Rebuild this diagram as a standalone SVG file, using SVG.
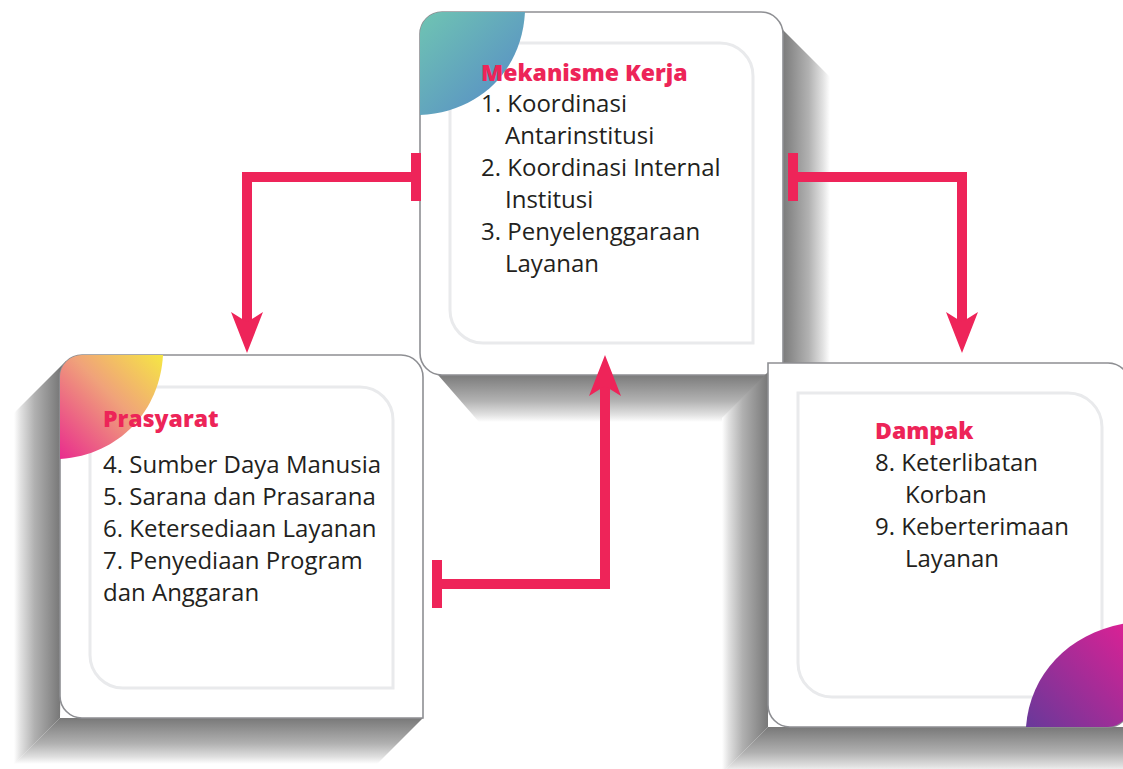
<svg xmlns="http://www.w3.org/2000/svg" width="1123" height="769" viewBox="0 0 1123 769">
  <style>
    .card { fill: #ffffff; stroke: #8e8f93; stroke-width: 1.6; }
    .inner { fill: none; stroke: #e9eaec; stroke-width: 3; }
    .title { font-family: "Open Sans", "Liberation Sans", sans-serif; font-weight: 800; font-size: 23px; fill: #ed2458; }
    .body { font-family: "Open Sans", "Liberation Sans", sans-serif; font-weight: 400; font-size: 24px; fill: #231f20; }
    .link { fill: none; stroke: #ee2459; stroke-width: 10; stroke-linejoin: miter; }
  </style>
  <defs>
    <!-- shadow faces: dark next to the card, fading outwards -->
    <linearGradient id="shR" gradientUnits="userSpaceOnUse" x1="783" y1="0" x2="830" y2="0">
      <stop offset="0" stop-color="#7b7b7b"/>
      <stop offset="0.55" stop-color="#b2b2b2"/>
      <stop offset="0.85" stop-color="#e2e2e2"/>
      <stop offset="1" stop-color="#ffffff"/>
    </linearGradient>
    <linearGradient id="shB1" gradientUnits="userSpaceOnUse" x1="0" y1="375" x2="0" y2="422">
      <stop offset="0" stop-color="#7b7b7b"/>
      <stop offset="0.55" stop-color="#b2b2b2"/>
      <stop offset="0.85" stop-color="#e2e2e2"/>
      <stop offset="1" stop-color="#ffffff"/>
    </linearGradient>
    <linearGradient id="shL2" gradientUnits="userSpaceOnUse" x1="60" y1="0" x2="14" y2="0">
      <stop offset="0" stop-color="#787878"/>
      <stop offset="0.55" stop-color="#b0b0b0"/>
      <stop offset="0.85" stop-color="#e0e0e0"/>
      <stop offset="1" stop-color="#ffffff"/>
    </linearGradient>
    <linearGradient id="shB2" gradientUnits="userSpaceOnUse" x1="0" y1="718" x2="0" y2="764">
      <stop offset="0" stop-color="#787878"/>
      <stop offset="0.55" stop-color="#b0b0b0"/>
      <stop offset="0.85" stop-color="#e0e0e0"/>
      <stop offset="1" stop-color="#ffffff"/>
    </linearGradient>
    <linearGradient id="shL3" gradientUnits="userSpaceOnUse" x1="768" y1="0" x2="722" y2="0">
      <stop offset="0" stop-color="#787878"/>
      <stop offset="0.55" stop-color="#b0b0b0"/>
      <stop offset="0.85" stop-color="#e0e0e0"/>
      <stop offset="1" stop-color="#ffffff"/>
    </linearGradient>
    <linearGradient id="shB3" gradientUnits="userSpaceOnUse" x1="0" y1="727" x2="0" y2="773">
      <stop offset="0" stop-color="#787878"/>
      <stop offset="0.55" stop-color="#b0b0b0"/>
      <stop offset="0.85" stop-color="#e0e0e0"/>
      <stop offset="1" stop-color="#ffffff"/>
    </linearGradient>

    <!-- corner accents -->
    <linearGradient id="gTeal" x1="0" y1="0" x2="1" y2="1">
      <stop offset="0" stop-color="#72cbb0"/>
      <stop offset="1" stop-color="#5587c8"/>
    </linearGradient>
    <linearGradient id="gWarm" x1="1" y1="0" x2="0" y2="1">
      <stop offset="0" stop-color="#f6ee3e"/>
      <stop offset="0.45" stop-color="#f0a27a"/>
      <stop offset="1" stop-color="#e8218f"/>
    </linearGradient>
    <linearGradient id="gViolet" x1="1" y1="0" x2="0" y2="1">
      <stop offset="0" stop-color="#e41f94"/>
      <stop offset="1" stop-color="#613a9a"/>
    </linearGradient>

    <clipPath id="clipMek">
      <path d="M442,12 H761 A22,22 0 0 1 783,34 V375 H442 A22,22 0 0 1 420,353 V34 A22,22 0 0 1 442,12 Z"/>
    </clipPath>
    <clipPath id="clipPra">
      <path d="M82,355 H401 A22,22 0 0 1 423,377 V718 H82 A22,22 0 0 1 60,696 V377 A22,22 0 0 1 82,355 Z"/>
    </clipPath>
    <clipPath id="clipDam">
      <path d="M768,363 H1108 A22,22 0 0 1 1130,385 V705 A22,22 0 0 1 1108,727 H790 A22,22 0 0 1 768,705 Z"/>
    </clipPath>

    <marker id="arrow" markerUnits="userSpaceOnUse" markerWidth="44" markerHeight="36" viewBox="0 -18 44 36" refX="10" refY="0" orient="auto">
      <path d="M41,0 L0,-16 L10,0 L0,16 Z" fill="#ee2459"/>
    </marker>
    <marker id="bar" markerUnits="userSpaceOnUse" markerWidth="12" markerHeight="50" viewBox="-6 -25 12 50" refX="0" refY="0" orient="auto">
      <rect x="-5" y="-24" width="10" height="48" fill="#ee2459"/>
    </marker>
  </defs>

  <!-- Mekanisme Kerja -->
  <g id="mekanisme-kerja">
    <polygon points="776,23 830,77 830,422 783,375" fill="url(#shR)"/>
    <polygon points="432,368 479,422 830,422 783,375" fill="url(#shB1)"/>
    <path class="card" d="M442,12 H761 A22,22 0 0 1 783,34 V375 H442 A22,22 0 0 1 420,353 V34 A22,22 0 0 1 442,12 Z"/>
    <path class="inner" d="M450,43 H720 A33,33 0 0 1 753,76 V343 H483 A33,33 0 0 1 450,310 Z"/>
    <path clip-path="url(#clipMek)" fill="url(#gTeal)" d="M525,12 C522,70 480,112 420,115 L410,115 L410,0 L525,0 Z"/>
    <text class="title" x="481" y="81">Mekanisme Kerja</text>
    <text class="body" x="481" y="112">1. Koordinasi</text>
    <text class="body" x="505" y="144">Antarinstitusi</text>
    <text class="body" x="481" y="176">2. Koordinasi Internal</text>
    <text class="body" x="505" y="208">Institusi</text>
    <text class="body" x="481" y="240">3. Penyelenggaraan</text>
    <text class="body" x="505" y="272">Layanan</text>
  </g>

  <!-- Prasyarat -->
  <g id="prasyarat">
    <polygon points="66,361 14,413 14,764 60,718" fill="url(#shL2)"/>
    <polygon points="60,718 14,764 377,764 423,718" fill="url(#shB2)"/>
    <path class="card" d="M82,355 H401 A22,22 0 0 1 423,377 V718 H82 A22,22 0 0 1 60,696 V377 A22,22 0 0 1 82,355 Z"/>
    <path class="inner" d="M90,387 H360 A33,33 0 0 1 393,420 V688 H123 A33,33 0 0 1 90,655 Z"/>
    <path clip-path="url(#clipPra)" fill="url(#gWarm)" d="M163,355 C160,410 120,455 60,459 L50,459 L50,345 L163,345 Z"/>
    <text class="title" x="103" y="427">Prasyarat</text>
    <text class="body" x="103" y="473">4. Sumber Daya Manusia</text>
    <text class="body" x="103" y="505">5. Sarana dan Prasarana</text>
    <text class="body" x="103" y="537">6. Ketersediaan Layanan</text>
    <text class="body" x="103" y="569">7. Penyediaan Program</text>
    <text class="body" x="103" y="601">dan Anggaran</text>
  </g>

  <!-- Dampak -->
  <g id="dampak">
    <polygon points="768,372 722,418 722,773 768,727" fill="url(#shL3)"/>
    <polygon points="768,727 722,773 1123,773 1123,727" fill="url(#shB3)"/>
    <path class="card" d="M768,363 H1108 A22,22 0 0 1 1130,385 V705 A22,22 0 0 1 1108,727 H790 A22,22 0 0 1 768,705 Z"/>
    <path class="inner" d="M798,393 H1068 A34,34 0 0 1 1102,427 V697 H832 A34,34 0 0 1 798,663 Z"/>
    <path clip-path="url(#clipDam)" fill="url(#gViolet)" d="M1026,727 C1030,670 1075,628 1135,622 L1140,622 L1140,740 L1026,740 Z"/>
    <text class="title" x="875" y="439">Dampak</text>
    <text class="body" x="875" y="471">8. Keterlibatan</text>
    <text class="body" x="905" y="503">Korban</text>
    <text class="body" x="875" y="535">9. Keberterimaan</text>
    <text class="body" x="905" y="567">Layanan</text>
  </g>

  <!-- connectors -->
  <g id="connectors">
    <path class="link" d="M416,177 H247 V322" marker-start="url(#bar)" marker-end="url(#arrow)"/>
    <path class="link" d="M793,177 H962 V322" marker-start="url(#bar)" marker-end="url(#arrow)"/>
    <path class="link" d="M437,584 H605 V386" marker-start="url(#bar)" marker-end="url(#arrow)"/>
  </g>
</svg>
